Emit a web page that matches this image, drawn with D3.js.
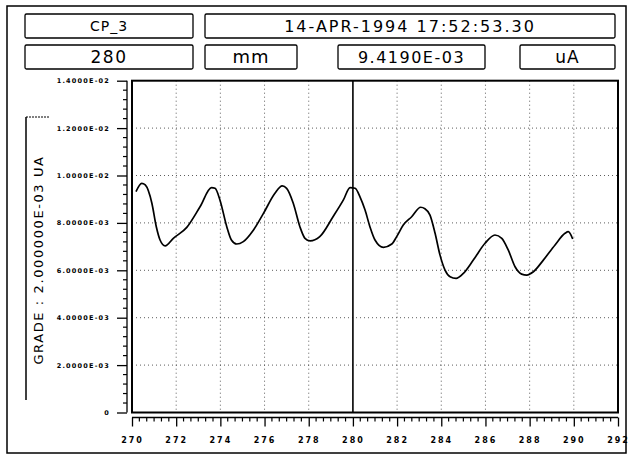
<!DOCTYPE html>
<html><head><meta charset="utf-8">
<script src="https://cdn.jsdelivr.net/npm/d3@7/dist/d3.min.js"></script>
<style>body{margin:0;background:#fff}svg{display:block}</style>
</head><body>
<script>
// ---- data ----
const xTickValues = [270,272,274,276,278,280,282,284,286,288,290,292];
const yTickValues = [0,0.002,0.004,0.006,0.008,0.010,0.012,0.014];
const yTickLabels = ["0","2.0000E-03","4.0000E-03","6.0000E-03","8.0000E-03","1.0000E-02","1.2000E-02","1.4000E-02"];
const positionMM = [270.18,270.44,270.6,270.9,271.1,271.27,271.5,271.87,272.48,273.08,273.6,273.76,273.98,274.29,274.5,274.74,275.04,275.5,275.95,276.47,276.8,277.0,277.3,277.6,277.83,278.06,278.5,279.1,279.57,279.87,280.1,280.32,280.55,280.77,281.0,281.38,281.76,281.98,282.28,282.66,283.07,283.26,283.49,283.72,283.94,284.17,284.4,284.67,285.0,285.45,285.98,286.43,286.74,287.03,287.34,287.64,287.87,288.17,288.62,289.15,289.6,289.75,289.95];
const currentUA = [0.00932,0.00967,0.0096,0.00883,0.00784,0.00728,0.00703,0.00735,0.00781,0.00868,0.00949,0.00946,0.00897,0.00784,0.00728,0.00711,0.00721,0.0077,0.0084,0.00925,0.00956,0.00946,0.00883,0.00784,0.00735,0.00724,0.00742,0.00826,0.00897,0.00949,0.00946,0.0091,0.00854,0.00784,0.00728,0.00697,0.00711,0.00742,0.00791,0.00826,0.00866,0.0086,0.00833,0.00756,0.00665,0.00601,0.00573,0.00566,0.00587,0.00643,0.00714,0.00749,0.00735,0.00686,0.00615,0.00584,0.0058,0.00594,0.00643,0.00707,0.00756,0.00763,0.00732];
const cursorX = 280;
const headerName = "CP_3";
const headerDate = "14-APR-1994 17:52:53.30";
const cursorPos = "280", cursorUnit = "mm", cursorVal = "9.4190E-03", valUnit = "uA";
const yTitle = "GRADE : 2.000000E-03 UA";

// ---- layout ----
const W = 632, H = 458;
const svg = d3.select("body").append("svg").attr("width", W).attr("height", H);
const x = d3.scaleLinear().domain([270, 292]).range([132, 618]);
const y = d3.scaleLinear().domain([0, 0.014]).range([412.5, 80.7]);

// outer border
svg.append("rect").attr("x", 7).attr("y", 6).attr("width", 619).attr("height", 447)
  .attr("fill", "none").attr("stroke", "#000").attr("stroke-width", 1.5);

// header boxes
const boxes = [
  {x:25, y:14, w:168, h:24, t:headerName, fs:14, ls:1},
  {x:205, y:14, w:410, h:24, t:headerDate, fs:16, ls:2},
  {x:25, y:45, w:168, h:24, t:cursorPos, fs:17, ls:1.5},
  {x:205, y:45, w:92, h:24, t:cursorUnit, fs:18, ls:1},
  {x:338, y:45, w:147, h:24, t:cursorVal, fs:16, ls:1.5},
  {x:520, y:45, w:95, h:24, t:valUnit, fs:17, ls:1}
];
const hb = svg.append("g");
boxes.forEach(b => {
  hb.append("rect").attr("x", b.x).attr("y", b.y).attr("width", b.w).attr("height", b.h)
    .attr("rx", 1.5).attr("fill", "none").attr("stroke", "#000").attr("stroke-width", 1.3);
  hb.append("text").attr("x", b.x + b.w/2).attr("y", b.y + b.h/2 + 1)
    .attr("text-anchor", "middle").attr("dominant-baseline", "middle")
    .attr("font-family", "DejaVu Sans, sans-serif").attr("font-size", b.fs)
    .attr("letter-spacing", b.ls).attr("fill", "#000").text(b.t);
});

// grid
const g = svg.append("g");
g.selectAll("line.vg").data(xTickValues.filter(v => v > 270 && v < 292 && v !== cursorX))
  .join("line").attr("x1", d => x(d)).attr("x2", d => x(d)).attr("y1", y(0.014)).attr("y2", y(0))
  .attr("stroke", "#333").attr("stroke-width", 0.8).attr("stroke-dasharray", "1,3");
g.selectAll("line.hg").data(yTickValues.filter(v => v > 0 && v < 0.014))
  .join("line").attr("x1", x(270)).attr("x2", x(292)).attr("y1", d => y(d)).attr("y2", d => y(d))
  .attr("stroke", "#333").attr("stroke-width", 0.8).attr("stroke-dasharray", "1,3");

// cursor
svg.append("line").attr("x1", x(cursorX)).attr("x2", x(cursorX)).attr("y1", y(0.014)).attr("y2", y(0))
  .attr("stroke", "#000").attr("stroke-width", 1.6);

// curve
const pts = positionMM.map((p, i) => [p, currentUA[i]]);
svg.append("path").datum(pts)
  .attr("d", d3.line().x(d => x(d[0])).y(d => y(d[1])).curve(d3.curveMonotoneX))
  .attr("fill", "none").attr("stroke", "#000").attr("stroke-width", 1.7);

// frame
svg.append("rect").attr("x", x(270)).attr("y", y(0.014)).attr("width", x(292) - x(270)).attr("height", y(0) - y(0.014))
  .attr("fill", "none").attr("stroke", "#000").attr("stroke-width", 2);

// y axis (offset to the left)
const yAxis = d3.axisLeft(y).tickValues(yTickValues).tickSize(10).tickPadding(7)
  .tickFormat((d, i) => yTickLabels[i]);
const ya = svg.append("g").attr("transform", "translate(127,0)").call(yAxis);
ya.select(".domain").attr("d", `M0,${y(0.014)}V${y(0)}`).attr("stroke-width", 1.3);
ya.selectAll(".tick line").attr("stroke-width", 1.3);
ya.selectAll(".tick text").attr("font-family", "DejaVu Sans, sans-serif").attr("font-weight", "bold")
  .attr("font-size", 6.5).attr("letter-spacing", 1.2);
const yMinor = d3.range(0, 0.014001, 0.0004).filter(v => !yTickValues.some(t => Math.abs(t - v) < 1e-6));
ya.selectAll("line.ym").data(yMinor).join("line").attr("x1", -4).attr("x2", 0)
  .attr("y1", d => y(d)).attr("y2", d => y(d)).attr("stroke", "#000").attr("stroke-width", 1.2);

// x axis (offset below)
const xAxis = d3.axisBottom(x).tickValues(xTickValues).tickSize(9).tickPadding(11).tickFormat(d3.format("d"));
const xa = svg.append("g").attr("transform", "translate(0,417.5)").call(xAxis);
xa.select(".domain").attr("d", `M${x(270)},0H${x(292)}`).attr("stroke-width", 1.3);
xa.selectAll(".tick line").attr("stroke-width", 1.3);
xa.selectAll(".tick text").attr("font-family", "DejaVu Sans, sans-serif").attr("font-weight", "bold")
  .attr("font-size", 8).attr("letter-spacing", 2);
const xMinor = d3.range(0, 66).map(i => 270 + i / 3).filter(v => Math.abs(v - Math.round(v / 2) * 2) > 1e-6);
xa.selectAll("line.xm").data(xMinor).join("line").attr("x1", d => x(d)).attr("x2", d => x(d))
  .attr("y1", 0).attr("y2", 4).attr("stroke", "#000").attr("stroke-width", 1.2);

// y title with bracket
svg.append("line").attr("x1", 26).attr("x2", 26).attr("y1", 117).attr("y2", 400).attr("stroke", "#000").attr("stroke-width", 1.5);
svg.append("line").attr("x1", 26).attr("x2", 50).attr("y1", 117).attr("y2", 117)
  .attr("stroke", "#000").attr("stroke-width", 1).attr("stroke-dasharray", "2,1");
svg.append("text").attr("transform", "translate(43,260) rotate(-90)").attr("text-anchor", "middle")
  .attr("font-family", "DejaVu Sans, sans-serif").attr("font-size", 13).attr("letter-spacing", 1.6)
  .attr("fill", "#000").text(yTitle);
</script>
</body></html>
